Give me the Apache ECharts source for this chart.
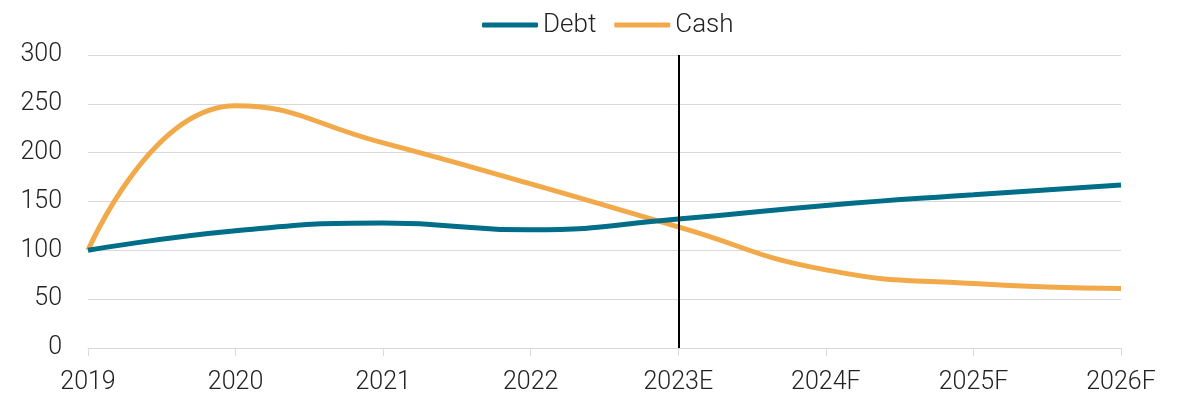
<!DOCTYPE html>
<html>
<head>
<meta charset="utf-8">
<script src="https://cdn.jsdelivr.net/npm/echarts@6/dist/echarts.min.js"></script>
<style>
  html, body { margin: 0; padding: 0; background: #fff; }
  #chart { width: 1191px; height: 398px; }
</style>
</head>
<body>
<div id="chart"></div>
<script>
// Years on the horizontal axis (E = estimate, F = forecast)
const years = ['2019', '2020', '2021', '2022', '2023E', '2024F', '2025F', '2026F'];
// Indexed values, 2019 = 100
const debt = [100, 120, 128, 121, 132, 146, 157, 167];
const cash = [100, 248, 210, 168, 124, 80, 66, 61];
// Year where actuals end and estimates begin
const splitYear = '2023E';

const FONT = 'Roboto';
const TEXT = '#222222';

const chart = echarts.init(document.getElementById('chart'));
chart.setOption({
  animation: false,
  textStyle: { fontFamily: FONT },
  legend: {
    top: 7,
    left: 477,
    itemWidth: 56,
    itemHeight: 5,
    itemGap: 18,
    icon: 'roundRect',
    textStyle: { fontFamily: FONT, fontSize: 26, fontWeight: 300, color: TEXT },
    data: ['Debt', 'Cash']
  },
  grid: { left: 88, right: 70, top: 55, bottom: 50, containLabel: false },
  xAxis: {
    type: 'category',
    data: years,
    boundaryGap: false,
    axisLine: { lineStyle: { color: '#d9d9d9', width: 1 } },
    axisTick: { show: true, alignWithLabel: true, length: 8, lineStyle: { color: '#d9d9d9' } },
    axisLabel: { fontFamily: FONT, fontSize: 25, fontWeight: 300, color: TEXT, margin: 22 },
    splitLine: { show: false }
  },
  yAxis: {
    type: 'value',
    min: 0,
    max: 300,
    interval: 50,
    axisLine: { show: false },
    axisTick: { show: false },
    axisLabel: { fontFamily: FONT, fontSize: 25, fontWeight: 300, color: TEXT, margin: 26 },
    splitLine: { lineStyle: { color: '#d9d9d9', width: 1 } }
  },
  series: [
    {
      name: 'Debt',
      type: 'line',
      data: debt,
      smooth: 0.5,
      symbol: 'none',
      lineStyle: { color: '#006e89', width: 5 },
      itemStyle: { color: '#006e89' },
      z: 3
    },
    {
      name: 'Cash',
      type: 'line',
      data: cash,
      smooth: 0.5,
      symbol: 'none',
      lineStyle: { color: '#f2a94a', width: 5 },
      itemStyle: { color: '#f2a94a' },
      z: 2,
      markLine: {
        silent: true,
        symbol: 'none',
        label: { show: false },
        lineStyle: { color: '#000000', width: 2, type: 'solid' },
        data: [{ xAxis: splitYear }],
        z: 5
      }
    }
  ]
});
</script>
</body>
</html>
